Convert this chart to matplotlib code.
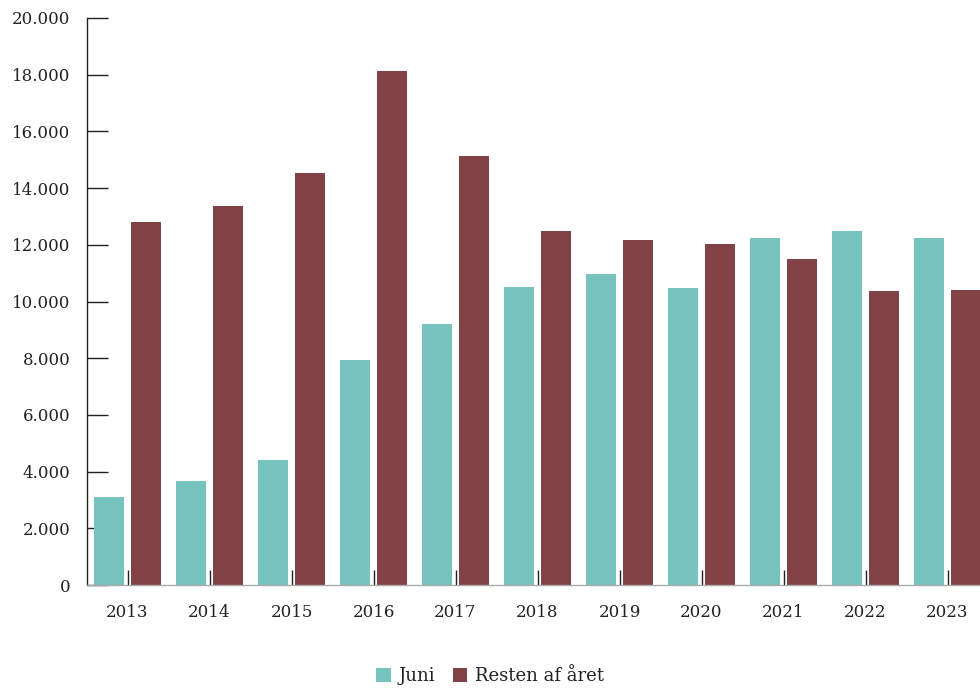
import matplotlib.pyplot as plt
import numpy as np
from matplotlib.ticker import FuncFormatter

years = ["2013", "2014", "2015", "2016", "2017", "2018", "2019", "2020", "2021", "2022", "2023"]
juni = [3100, 3670, 4410, 7940, 9210, 10510, 10970, 10480, 12240, 12490, 12240]
resten = [12800, 13370, 14530, 18130, 15130, 12490, 12170, 12030, 11500, 10370, 10410]

teal = "#76c4bd"
maroon = "#834246"
plt.rcParams["font.family"] = ["DejaVu Serif"]

fig = plt.figure(figsize=(9.8, 6.89), dpi=100)
ax = fig.add_axes([87 / 980, 104 / 689, 1 - 87 / 980, 567 / 689])

x = np.arange(len(years))
w = 0.366
ax.bar(x - 0.226, juni, w, color=teal, label="Juni", zorder=2)
ax.bar(x + 0.226, resten, w, color=maroon, label="Resten af året", zorder=2)

ax.set_xlim(-0.494, 10.396)
ax.set_ylim(0, 20000)
ax.set_yticks(np.arange(0, 20001, 2000))
ax.yaxis.set_major_formatter(FuncFormatter(lambda v, p: f"{int(v):,}".replace(",", ".")))
ax.set_xticks(x)
ax.set_xticklabels(years)

for s in ["top", "right"]:
    ax.spines[s].set_visible(False)
ax.spines["left"].set_color("#222222")
ax.spines["left"].set_linewidth(1.0)
ax.spines["bottom"].set_color("#aaaaaa")
ax.spines["bottom"].set_linewidth(1.0)

ax.tick_params(axis="y", direction="in", length=15, width=1.0, color="#222222",
               labelsize=12, labelcolor="#222222", pad=12)
ax.tick_params(axis="x", direction="in", length=11, width=1.0, color="#222222",
               labelsize=12, labelcolor="#222222", pad=13.5)

fig.legend(loc="lower center", bbox_to_anchor=(0.5, -0.018), ncol=2, frameon=False,
           fontsize=13, handlelength=0.8, handleheight=0.8, handletextpad=0.4,
           columnspacing=1.0, labelcolor="#222222")

fig.savefig("out.png", dpi=100)
